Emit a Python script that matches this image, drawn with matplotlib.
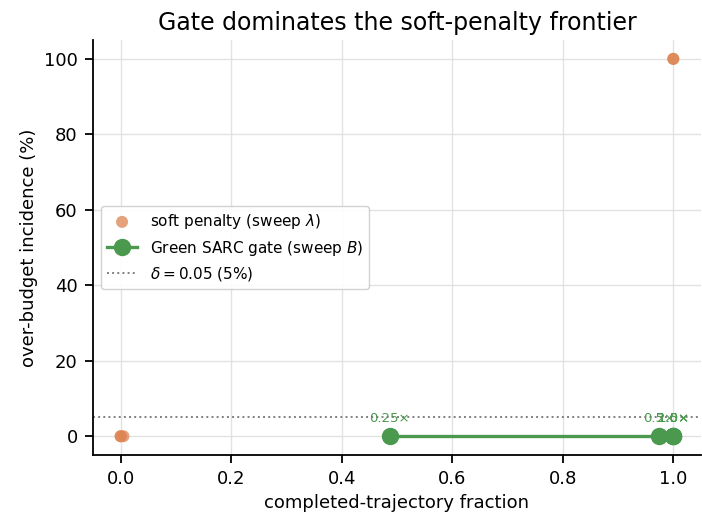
import matplotlib
matplotlib.use("Agg")
import matplotlib.pyplot as plt

# Soft-penalty sweep over lambda: (completed fraction, over-budget %)
soft_completed = [0.0, 0.0, 0.005, 1.0, 1.0]
soft_overbudget = [0.0, 0.0, 0.0, 100.0, 100.0]

# Green SARC gate sweep over budget multiplier B
gate_labels = ["0.25×", "0.5×", "1.0×", "1.5×", "2.0×"]
gate_completed = [0.487, 0.975, 1.0, 1.0, 1.0]
gate_overbudget = [0.0, 0.0, 0.0, 0.0, 0.0]

delta = 0.05

orange = "#dd8452"
green = "#4a994e"

fig = plt.figure(figsize=(7.02, 5.16), dpi=100)
ax = fig.add_axes([0.1325, 0.118, 0.866, 0.8045])

ax.scatter(soft_completed, soft_overbudget, s=75, color=orange, alpha=0.75,
           edgecolors="none", label=r"soft penalty (sweep $\lambda$)", zorder=3)
ax.plot(gate_completed, gate_overbudget, "-o", color=green, lw=2.4, ms=11.5,
        label=r"Green SARC gate (sweep $B$)", zorder=4)
for lab, xv, yv in zip(gate_labels, gate_completed, gate_overbudget):
    ax.annotate(lab, (xv, yv), xytext=(0, 8), textcoords="offset points",
                ha="center", va="bottom", fontsize=9.5, color=green)
ax.axhline(delta * 100, color="gray", ls=":", lw=1.4,
           label=r"$\delta=0.05$ (5%)", zorder=2)

ax.set_xlim(-0.05, 1.05)
ax.set_ylim(-5, 105)
ax.grid(True, color="#dddddd", lw=1.0, alpha=0.85)
ax.set_axisbelow(True)
for side in ("top", "right"):
    ax.spines[side].set_visible(False)
for side in ("left", "bottom"):
    ax.spines[side].set_linewidth(1.3)
ax.tick_params(labelsize=13, length=6, width=1.3, pad=5)
ax.set_xlabel("completed-trajectory fraction", fontsize=13)
ax.set_ylabel("over-budget incidence (%)", fontsize=13)
ax.set_title("Gate dominates the soft-penalty frontier", fontsize=17, pad=7)
ax.legend(loc="center left", fontsize=11, framealpha=0.9)

fig.savefig("out.png", dpi=100)
